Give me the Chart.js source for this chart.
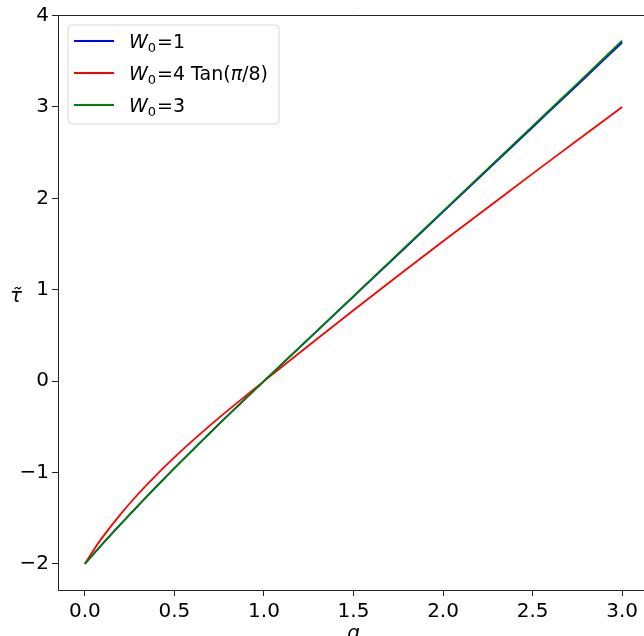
<!DOCTYPE html>
<html>
<head>
<meta charset="utf-8">
<script src="https://cdn.jsdelivr.net/npm/chart.js@4/dist/chart.umd.min.js"></script>
<style>
    html, body { margin: 0; padding: 0; background: #fff; overflow: hidden; }
    #wrap { position: relative; width: 650px; height: 636px; }
</style>
</head>
<body>
<div id="wrap"><canvas id="tauChart" width="650" height="636" style="width:650px;height:636px"></canvas></div>
<script>
// values
const qValues = [0, 0.05, 0.1, 0.2, 0.3, 0.4, 0.5, 0.6, 0.75, 1, 1.25, 1.5, 1.75, 2, 2.25, 2.5, 2.75, 3];
const tauW1   = [-2, -1.888, -1.778, -1.565, -1.357, -1.153, -0.953, -0.757, -0.468, 0, 0.462, 0.925, 1.388, 1.851, 2.314, 2.777, 3.24, 3.705];
const tauTan  = [-2, -1.845, -1.705, -1.455, -1.23, -1.025, -0.835, -0.655, -0.40, 0, 0.39, 0.775, 1.155, 1.53, 1.9, 2.27, 2.635, 3.0];
const tauW3   = [-2, -1.888, -1.778, -1.565, -1.357, -1.153, -0.953, -0.757, -0.468, 0, 0.465, 0.93, 1.395, 1.86, 2.325, 2.79, 3.255, 3.725];

const xTicks = [0, 0.5, 1, 1.5, 2, 2.5, 3];
const yTicks = [-2, -1, 0, 1, 2, 3, 4];

const seriesLabels = ['W₀=1', 'W₀=4 Tan(π/8)', 'W₀=3'];
const seriesColors = ['#0000ff', '#ff0000', '#008000'];

const FONT = '"DejaVu Sans", sans-serif';

function toPoints(ys) {
    return qValues.map((q, i) => ({ x: q, y: ys[i] }));
}

function minusLabel(v, digits) {
    const s = digits ? Math.abs(v).toFixed(digits) : String(Math.abs(v));
    return v < 0 ? '\u2212' + s : s;
}

// W₀ style label: italic W, small subscript 0, rest upright (π italic)
function drawSeriesLabel(ctx, label, x, y) {
    const rest = label.split('₀')[1];
    ctx.textBaseline = 'alphabetic';
    ctx.textAlign = 'left';
    ctx.fillStyle = '#000';
    ctx.font = 'italic 19px ' + FONT;
    ctx.fillText('W', x, y);
    x += ctx.measureText('W').width;
    ctx.font = '13px ' + FONT;
    ctx.fillText('0', x, y + 4);
    x += ctx.measureText('0').width + 1;
    rest.split(/(π)/).forEach(piece => {
        if (!piece) return;
        ctx.font = (piece === 'π' ? 'italic ' : '') + '19px ' + FONT;
        ctx.fillText(piece, x, y);
        x += ctx.measureText(piece).width;
    });
}

const decorPlugin = {
    id: 'decor',
    afterDraw(chart) {
        const ctx = chart.ctx;
        const a = chart.chartArea;
        ctx.save();

        // top and right spines
        ctx.strokeStyle = '#222';
        ctx.lineWidth = 1;
        ctx.beginPath();
        ctx.moveTo(a.left, a.top + 0.5);
        ctx.lineTo(a.right, a.top + 0.5);
        ctx.moveTo(a.right - 0.5, a.top);
        ctx.lineTo(a.right - 0.5, a.bottom);
        ctx.stroke();

        // legend
        const bx = 68, by = 25, bw = 211, bh = 99, r = 4;
        ctx.beginPath();
        ctx.moveTo(bx + r, by);
        ctx.arcTo(bx + bw, by, bx + bw, by + bh, r);
        ctx.arcTo(bx + bw, by + bh, bx, by + bh, r);
        ctx.arcTo(bx, by + bh, bx, by, r);
        ctx.arcTo(bx, by, bx + bw, by, r);
        ctx.closePath();
        ctx.fillStyle = 'rgba(255,255,255,0.8)';
        ctx.fill();
        ctx.strokeStyle = '#d6d6d6';
        ctx.stroke();

        chart.data.datasets.forEach((ds, i) => {
            const cy = 41 + i * 32;
            ctx.strokeStyle = ds.borderColor;
            ctx.lineWidth = 1.8;
            ctx.beginPath();
            ctx.moveTo(74, cy);
            ctx.lineTo(114, cy);
            ctx.stroke();
            drawSeriesLabel(ctx, ds.label, 129, cy + 7);
        });

        // axis titles
        ctx.fillStyle = '#000';
        ctx.textAlign = 'center';
        ctx.textBaseline = 'alphabetic';
        ctx.font = 'italic 20px ' + FONT;
        ctx.fillText('τ\u0303', 16, 302);
        ctx.fillText('q', (a.left + a.right) / 2, 639);

        ctx.restore();
    }
};

const ctx = document.getElementById('tauChart').getContext('2d');
new Chart(ctx, {
    type: 'line',
    data: {
        datasets: [tauW1, tauTan, tauW3].map((ys, i) => ({
            label: seriesLabels[i],
            data: toPoints(ys),
            borderColor: seriesColors[i],
            borderWidth: 1.8,
            pointRadius: 0,
            fill: false,
            order: 3 - i,   // green drawn last, on top
            cubicInterpolationMode: 'monotone'
        }))
    },
    options: {
        responsive: false,
        animation: false,
        layout: { padding: { top: 15, right: 1, left: 0, bottom: 0 } },
        plugins: {
            legend: { display: false },
            tooltip: { enabled: false }
        },
        scales: {
            x: {
                type: 'linear',
                min: -0.15,
                max: 3.15,
                afterBuildTicks: (scale) => { scale.ticks = xTicks.map(v => ({ value: v })); },
                afterFit: (scale) => { scale.height = 46; },
                grid: { drawOnChartArea: false, drawTicks: true, tickLength: 6, color: '#222' },
                border: { display: true, color: '#222', width: 1 },
                ticks: {
                    autoSkip: false,
                    maxRotation: 0,
                    padding: 4,
                    color: '#000',
                    font: { family: FONT, size: 20 },
                    callback: (v) => minusLabel(v, 1)
                }
            },
            y: {
                type: 'linear',
                min: -2.286,
                max: 4.006,
                afterBuildTicks: (scale) => { scale.ticks = yTicks.map(v => ({ value: v })); },
                afterFit: (scale) => { scale.width = 58; },
                grid: { drawOnChartArea: false, drawTicks: true, tickLength: 6, color: '#222' },
                border: { display: true, color: '#222', width: 1 },
                ticks: {
                    autoSkip: false,
                    padding: 3,
                    color: '#000',
                    font: { family: FONT, size: 20 },
                    callback: (v) => minusLabel(v, 0)
                }
            }
        }
    },
    plugins: [decorPlugin]
});
</script>
</body>
</html>
